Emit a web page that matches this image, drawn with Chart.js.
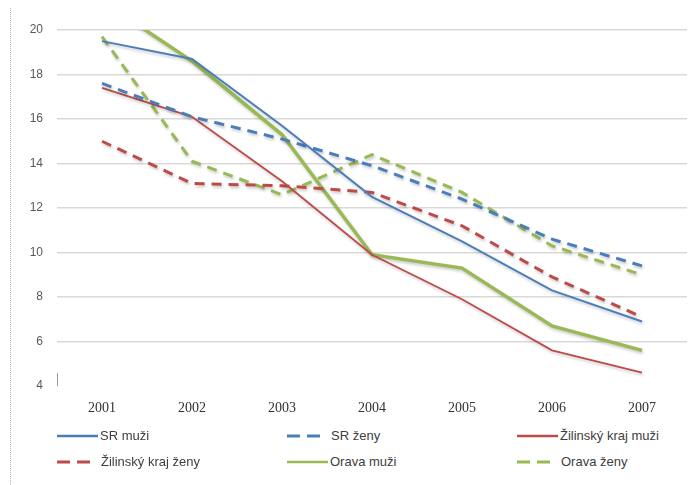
<!DOCTYPE html>
<html>
<head>
<meta charset="utf-8">
<script src="https://cdn.jsdelivr.net/npm/chart.js@4"></script>
<style>
  body { margin: 0; background: #fff; }
  .wrap { position: relative; width: 697px; height: 485px; background: #fff; }
  .frame { position: absolute; left: 10px; top: 8px; bottom: 0; border-left: 1px dotted #b8b8b8; }
  .axis-stub { position: absolute; left: 57px; top: 373px; height: 13px; border-left: 1px solid #9a9a9a; }
  .chart-box { position: absolute; left: 0; top: 0; width: 697px; height: 420px; }
  .legend-item { position: absolute; height: 16px; font: 13px "Liberation Sans", Arial, sans-serif; color: #404040; white-space: nowrap; }
  .legend-item svg { position: absolute; left: 0; top: 3px; }
  .legend-item span { position: absolute; top: 0; }
</style>
</head>
<body>
<div class="wrap">
  <div class="frame"></div>
  <div class="chart-box"><canvas id="line-chart"></canvas></div>
  <div class="axis-stub"></div>
  <div id="legend"></div>
</div>
<script>
// Data

const years = ["2001", "2002", "2003", "2004", "2005", "2006", "2007"];
const yTicks = [4, 6, 8, 10, 12, 14, 16, 18, 20];

const srMuzi = [19.5, 18.7, 15.7, 12.5, 10.5, 8.3, 6.9];
const srZeny = [17.6, 16.1, 15.1, 13.9, 12.4, 10.6, 9.4];
const zilMuzi = [17.4, 16.1, 13.2, 9.9, 7.9, 5.6, 4.6];
const zilZeny = [15.0, 13.1, 13.0, 12.7, 11.2, 8.9, 7.1];
const oravaMuzi = [21.3, 18.6, 15.3, 9.9, 9.3, 6.7, 5.6];
const oravaZeny = [19.7, 14.1, 12.6, 14.4, 12.7, 10.3, 9.0];

const blue = "#4a7ebb";
const red = "#be4b48";
const green = "#98b954";

// series list, also used for the legend
const series = [
  { label: "SR muži", data: srMuzi, color: blue, dashed: false, width: 2 },
  { label: "SR ženy", data: srZeny, color: blue, dashed: true, width: 3 },
  { label: "Žilinský kraj muži", data: zilMuzi, color: red, dashed: false, width: 1.8 },
  { label: "Žilinský kraj ženy", data: zilZeny, color: red, dashed: true, width: 3 },
  { label: "Orava muži", data: oravaMuzi, color: green, dashed: false, width: 3.5 },
  { label: "Orava ženy", data: oravaZeny, color: green, dashed: true, width: 3 },
];

// soft shadow under the lines (old Excel look)
const lineShadow = {
  id: "lineShadow",
  beforeDatasetDraw(chart) {
    const ctx = chart.ctx;
    ctx.save();
    ctx.shadowColor = "rgba(0, 0, 0, 0.22)";
    ctx.shadowBlur = 3;
    ctx.shadowOffsetX = 1;
    ctx.shadowOffsetY = 2;
  },
  afterDatasetDraw(chart) {
    chart.ctx.restore();
  },
};

// Line chart

const lineData = {
  labels: years,
  datasets: series.map((s) => ({
    label: s.label,
    data: s.data,
    borderColor: s.color,
    backgroundColor: s.color,
    borderWidth: s.width,
    borderDash: s.dashed ? [10, 7] : [],
    pointRadius: 0,
    tension: 0,
    fill: false,
  })),
};

const lineOptions = {
  responsive: true,
  maintainAspectRatio: false,
  animation: false,
  layout: {
    padding: { top: 30, right: 10, left: 0, bottom: 0 },
  },
  scales: {
    x: {
      offset: true,
      grid: { display: false, drawTicks: false },
      border: { display: false },
      ticks: {
        padding: 14,
        color: "#333",
        font: { family: "Liberation Serif", size: 14 },
      },
      afterFit: (scale) => {
        scale.height = 34;
      },
    },
    y: {
      min: 4,
      max: 20,
      afterBuildTicks: (scale) => {
        scale.ticks = yTicks.map((v) => ({ value: v }));
      },
      grid: {
        drawTicks: false,
        lineWidth: 1.5,
        color: (ctx) => (ctx.tick && ctx.tick.value === 4 ? "rgba(0,0,0,0)" : "#d9d9d9"),
      },
      border: { display: false },
      ticks: {
        padding: 14,
        color: "#595959",
        font: { family: "Liberation Sans", size: 12 },
      },
      afterFit: (scale) => {
        scale.width = 57;
      },
    },
  },
  plugins: {
    legend: { display: false },
    tooltip: { enabled: false },
  },
};

const lineCanvas = document.getElementById("line-chart");
if (typeof Chart !== "undefined" && lineCanvas) {
  new Chart(lineCanvas.getContext("2d"), {
    type: "line",
    data: lineData,
    options: lineOptions,
    plugins: [lineShadow],
  });
}

// Legend, three columns and two rows

const legend = document.getElementById("legend");
const colX = [57, 287, 517];
const rowY = [428, 454];
series.forEach((s, i) => {
  const item = document.createElement("div");
  item.className = "legend-item";
  item.style.left = colX[i % 3] + "px";
  item.style.top = rowY[Math.floor(i / 3)] + "px";
  const lineLen = s.dashed ? 33 : 41;
  const textX = s.dashed ? 44 : 43;
  item.innerHTML = `
    <svg width="44" height="10"><line x1="0" y1="5" x2="${lineLen}" y2="5"
      stroke="${s.color}" stroke-width="${s.dashed ? 3 : 2.5}"
      ${s.dashed ? 'stroke-dasharray="13 7"' : ""}/></svg>
    <span style="left:${textX}px">${s.label}</span>
  `;
  legend.appendChild(item);
});
</script>
</body>
</html>
